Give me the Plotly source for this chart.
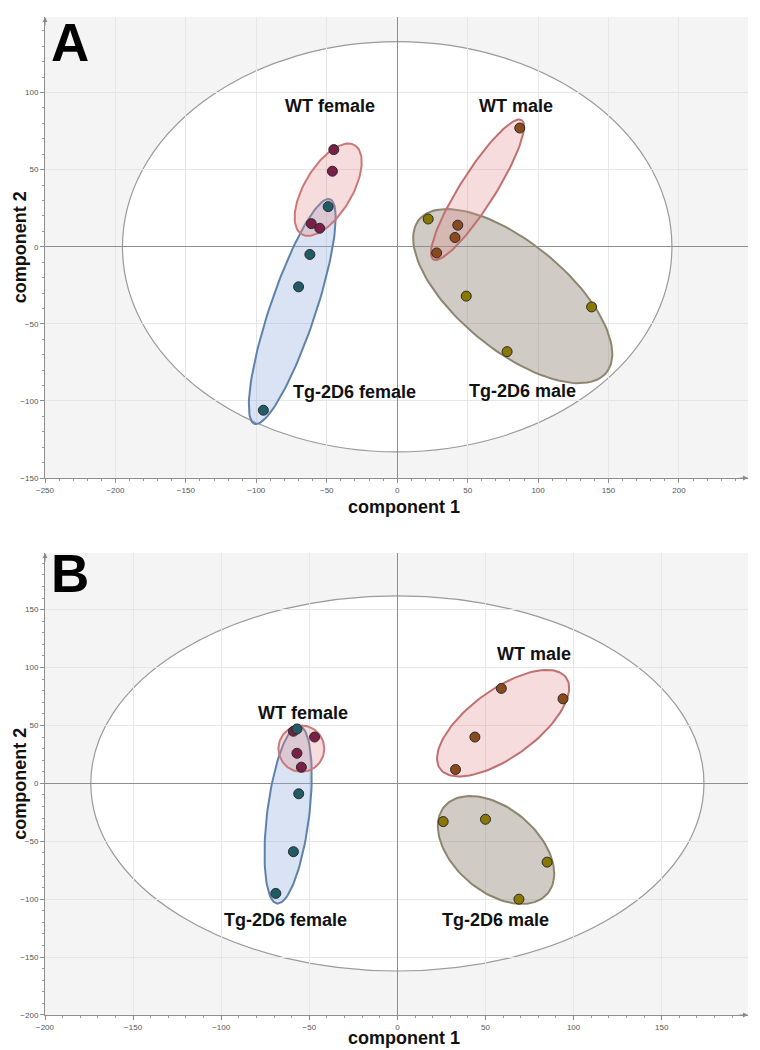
import numpy as np
import plotly.graph_objects as go

# ---------------- data ----------------
groups = ["WT female", "Tg-2D6 female", "WT male", "Tg-2D6 male"]
point_colors = ["#7a1f45", "#1f5c66", "#8a4a1e", "#8a7800"]
fill_colors = ["rgba(225,140,140,0.30)", "rgba(150,175,220,0.35)",
               "rgba(225,140,140,0.30)", "rgba(150,140,125,0.45)"]
edge_colors = ["#cc7878", "#5f82aa", "#c07070", "#8c8670"]

# Panel A scores
a_wt_female_x = [-45, -46, -61, -55]
a_wt_female_y = [63, 49, 15, 12]
a_tg_female_x = [-49, -62, -70, -95]
a_tg_female_y = [26, -5, -26, -106]
a_wt_male_x = [87, 43, 41, 28]
a_wt_male_y = [77, 14, 6, -4]
a_tg_male_x = [22, 49, 138, 78]
a_tg_male_y = [18, -32, -39, -68]

# Panel B scores
b_wt_female_x = [-59, -47, -57, -54.5]
b_wt_female_y = [45, 40, 26, 14]
b_tg_female_x = [-57, -56, -59, -69]
b_tg_female_y = [47, -9, -59, -95]
b_wt_male_x = [59, 94, 44, 33]
b_wt_male_y = [82, 73, 40, 12]
b_tg_male_x = [26, 50, 85, 69]
b_tg_male_y = [-33, -31, -68, -100]

# group confidence ellipses: (center x, center y, semi-major, semi-minor, angle deg)
a_group_ellipses = [(-49, 37, 34.5, 16.5, 55.5), (-74.5, -42, 77.6, 16, 69.7),
                    (57, 37, 55, 12, 55), (82, -32, 83, 36, -35.6)]
b_group_ellipses = [(-54.5, 30, 20, 13, 90), (-62, -27, 77, 12, 85.5),
                    (60, 52, 54.4, 23.7, 53.6), (56, -57.5, 50, 27.6, -64.2)]
# Hotelling T2 ellipses (semi-axis x, semi-axis y)
a_t2 = (195, 133)
b_t2 = (174, 162)

# label positions
a_label_pos = [(-47.5, 91.6), (-30, -94), (84.4, 91.6), (88.7, -93.5)]
b_label_pos = [(-53.4, 61), (-63.6, -117.7), (77.8, 111.6), (55.7, -117.7)]

a_range_x, a_range_y = [-250, 249], [-150, 149]
b_range_x, b_range_y = [-200, 199], [-200, 199]

# ---------------- figure ----------------
FONT = "Liberation Sans, Arial, sans-serif"


def ellipse_xy(cx, cy, a, b, ang, n=120):
    t = np.linspace(0, 2 * np.pi, n)
    th = np.radians(ang)
    x = cx + a * np.cos(t) * np.cos(th) - b * np.sin(t) * np.sin(th)
    y = cy + a * np.cos(t) * np.sin(th) + b * np.sin(t) * np.cos(th)
    return x, y


fig = go.Figure()

panels = [
    ("x", "y", a_group_ellipses,
     [(a_wt_female_x, a_wt_female_y), (a_tg_female_x, a_tg_female_y),
      (a_wt_male_x, a_wt_male_y), (a_tg_male_x, a_tg_male_y)], a_label_pos, a_t2, "A",
     -0.063, 1.012),
    ("x2", "y2", b_group_ellipses,
     [(b_wt_female_x, b_wt_female_y), (b_tg_female_x, b_tg_female_y),
      (b_wt_male_x, b_wt_male_y), (b_tg_male_x, b_tg_male_y)], b_label_pos, b_t2, "B",
     -0.049, 1.023),
]

draw_order = [3, 1, 2, 0]
shapes = []
annotations = []
for xr, yr, ells, pts, labels, t2, letter, xt_y, let_y in panels:
    # white T2 ellipse under the grid
    shapes.append(dict(type="circle", xref=xr, yref=yr, layer="below",
                       x0=-t2[0], x1=t2[0], y0=-t2[1], y1=t2[1],
                       fillcolor="white", line=dict(color="#9a9a9a", width=1.2)))
    for gi in draw_order:
        ex, ey = ellipse_xy(*ells[gi])
        fig.add_trace(go.Scatter(x=ex, y=ey, xaxis=xr, yaxis=yr, mode="lines",
                                 fill="toself", fillcolor=fill_colors[gi],
                                 line=dict(color=edge_colors[gi], width=2),
                                 hoverinfo="skip", showlegend=False))
    for gi in range(4):
        fig.add_trace(go.Scatter(x=pts[gi][0], y=pts[gi][1], xaxis=xr, yaxis=yr,
                                 mode="markers", name=groups[gi],
                                 marker=dict(size=10, color=point_colors[gi],
                                             line=dict(color="#2a2a2a", width=1)),
                                 showlegend=False))
    for gi in range(4):
        annotations.append(dict(x=labels[gi][0], y=labels[gi][1], xref=xr, yref=yr,
                                text="<b>" + groups[gi] + "</b>", showarrow=False,
                                font=dict(family=FONT, size=18, color="#111")))
    xd = xr + " domain"
    yd = yr + " domain"
    annotations.append(dict(x=0.006, y=let_y, xref=xd, yref=yd, xanchor="left",
                            yanchor="top", text="<b>" + letter + "</b>", showarrow=False,
                            font=dict(family=FONT, size=53, color="black")))
    annotations.append(dict(x=0.51, y=xt_y, xref=xd, yref=yd, xanchor="center",
                            yanchor="middle", text="<b>component 1</b>", showarrow=False,
                            font=dict(family=FONT, size=18, color="#111")))
    annotations.append(dict(x=-0.036, y=0.5, xref=xd, yref=yd, xanchor="center",
                            yanchor="middle", textangle=-90, text="<b>component 2</b>",
                            showarrow=False,
                            font=dict(family=FONT, size=18, color="#111")))
    # axis arrows
    annotations.append(dict(x=1.0, y=0, xref=xd, yref=yd, ax=-10, ay=0, text="",
                            showarrow=True, arrowhead=2, arrowsize=1, arrowwidth=1,
                            arrowcolor="#8a8a8a"))
    annotations.append(dict(x=0, y=1.0, xref=xd, yref=yd, ax=0, ay=10, text="",
                            showarrow=True, arrowhead=2, arrowsize=1, arrowwidth=1,
                            arrowcolor="#8a8a8a"))

axis_common = dict(showgrid=True, gridcolor="#e6e6e6", gridwidth=1,
                   zeroline=True, zerolinecolor="#8e8e8e", zerolinewidth=1,
                   showline=True, linecolor="#8e8e8e", linewidth=1,
                   ticks="outside", ticklen=4, tickcolor="#8e8e8e", dtick=50,
                   tickfont=dict(family=FONT, size=8, color="#555"),
                   minor=dict(ticks="outside", ticklen=2, dtick=10, tickcolor="#9a9a9a",
                              showgrid=False),
                   automargin=False, fixedrange=True)

fig.update_layout(
    width=752, height=1042,
    margin=dict(l=37, r=12, t=9, b=35),
    paper_bgcolor="white", plot_bgcolor="#f4f4f4",
    showlegend=False,
    xaxis=dict(domain=[0, 1], anchor="y", range=a_range_x, **axis_common),
    yaxis=dict(domain=[0.538, 1.0], anchor="x", range=a_range_y, **axis_common),
    xaxis2=dict(domain=[0, 1], anchor="y2", range=b_range_x, **axis_common),
    yaxis2=dict(domain=[0, 0.463], anchor="x2", range=b_range_y, **axis_common),
    shapes=shapes,
    annotations=annotations,
)

fig.write_html("out.html")
